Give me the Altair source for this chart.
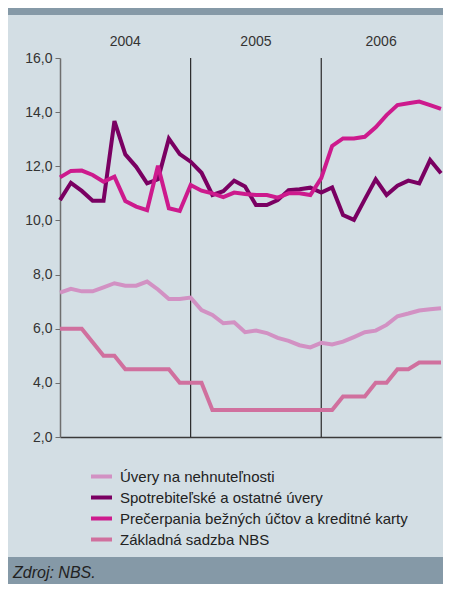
import altair as alt
import pandas as pd

# ---------------- data ----------------
years = ["2004", "2005", "2006"]
months = [f"{y}-{m:02d}" for y in years for m in range(1, 13)]

series_names = [
    "Úvery na nehnuteľnosti",
    "Spotrebiteľské a ostatné úvery",
    "Prečerpania bežných účtov a kreditné karty",
    "Základná sadzba NBS",
]
series_colors = ["#D291C3", "#7A0062", "#CD1A8D", "#D0709E"]

mortgage = [7.33, 7.47, 7.38, 7.38, 7.53, 7.68, 7.59, 7.59, 7.74, 7.45, 7.10, 7.10,
            7.15, 6.69, 6.51, 6.20, 6.24, 5.87, 5.93, 5.84, 5.66, 5.55, 5.39, 5.31,
            5.48, 5.42, 5.52, 5.69, 5.87, 5.93, 6.14, 6.46, 6.56, 6.67, 6.72, 6.76]
consumer = [10.75, 11.39, 11.09, 10.73, 10.73, 13.67, 12.44, 11.98, 11.37, 11.52, 13.02, 12.45,
            12.17, 11.76, 10.94, 11.08, 11.47, 11.25, 10.57, 10.57, 10.75, 11.12, 11.15, 11.21,
            11.03, 11.22, 10.20, 10.02, 10.78, 11.52, 10.94, 11.28, 11.47, 11.37, 12.23, 11.74]
overdraft = [11.59, 11.83, 11.84, 11.68, 11.43, 11.62, 10.72, 10.51, 10.38, 12.02, 10.45, 10.35,
             11.31, 11.10, 11.00, 10.86, 11.03, 10.98, 10.94, 10.94, 10.84, 11.00, 11.00, 10.94,
             11.56, 12.75, 13.03, 13.03, 13.09, 13.44, 13.89, 14.26, 14.33, 14.39, 14.26, 14.12]
nbs_rate = [6.0, 6.0, 6.0, 5.5, 5.0, 5.0, 4.5, 4.5, 4.5, 4.5, 4.5, 4.0,
            4.0, 4.0, 3.0, 3.0, 3.0, 3.0, 3.0, 3.0, 3.0, 3.0, 3.0, 3.0,
            3.0, 3.0, 3.5, 3.5, 3.5, 4.0, 4.0, 4.5, 4.5, 4.75, 4.75, 4.75]

y_ticks = [2, 4, 6, 8, 10, 12, 14, 16]
source_text = "Zdroj: NBS."

# ---------------- tables ----------------
rows = []
for name, vals in zip(series_names, [mortgage, consumer, overdraft, nbs_rate]):
    for i, (m, v) in enumerate(zip(months, vals)):
        rows.append({"t": i, "month": m, "series": name, "value": v})
df = pd.DataFrame(rows)

last = len(months) - 1
year_starts = [months.index(f"{y}-01") for y in years]
year_ends = year_starts[1:] + [last]
years_df = pd.DataFrame({
    "year": years,
    "mid": [(a + b) / 2 for a, b in zip(year_starts, year_ends)],
})
bounds_df = pd.DataFrame({"t": year_starts[1:]})
one = pd.DataFrame({"k": [0]})

W, H = 381, 379
PL, PT, PR, PB = 52, 50, 2, 147
FONT = "Liberation Sans"
BAND = "#8599A7"

x_scale = alt.Scale(domain=[0, last], nice=False, zero=False)

# ---------------- layers ----------------
top_band = alt.Chart(one).mark_rect(color=BAND).encode(
    x=alt.value(-PL), x2=alt.value(W + PR), y=alt.value(-PT), y2=alt.value(-PT + 7)
)
bottom_band = alt.Chart(one).mark_rect(color=BAND).encode(
    x=alt.value(-PL), x2=alt.value(W + PR), y=alt.value(H + PB - 27), y2=alt.value(H + PB)
)
source = alt.Chart(pd.DataFrame({"txt": [source_text]})).mark_text(
    font=FONT, fontSize=16, fontStyle="italic", color="#222222", align="left", baseline="alphabetic"
).encode(x=alt.value(-PL + 5), y=alt.value(H + PB - 6), text="txt:N")

lines = alt.Chart(df).mark_line(strokeWidth=4).encode(
    x=alt.X("t:Q", scale=x_scale,
            axis=alt.Axis(title=None, labels=False, ticks=False, grid=False,
                          domainColor="#3A3A3A", domainWidth=1.5)),
    y=alt.Y("value:Q", scale=alt.Scale(domain=[2, 16], nice=False, zero=False),
            axis=alt.Axis(title=None, values=y_ticks, grid=False,
                          labelExpr="replace(format(datum.value, '.1f'), '.', ',')",
                          labelFont=FONT, labelFontSize=14, labelColor="#333333",
                          labelPadding=3, tickSize=5, tickColor="#6E6E6E",
                          domainColor="#6E6E6E", domainWidth=1.5)),
    color=alt.Color("series:N",
                    scale=alt.Scale(domain=series_names, range=series_colors),
                    legend=alt.Legend(title=None, orient="none", legendX=29, legendY=406,
                                      symbolType="stroke", symbolStrokeWidth=4, symbolSize=441,
                                      labelFont=FONT, labelFontSize=15, labelColor="#222222",
                                      labelOffset=6, rowPadding=0, padding=0,
                                      labelLimit=400)),
    detail="series:N",
)

rules = alt.Chart(bounds_df).mark_rule(color="#2A2A2A", strokeWidth=1.2).encode(
    x=alt.X("t:Q", scale=x_scale)
)

year_labels = alt.Chart(years_df).mark_text(
    font=FONT, fontSize=14, color="#333333", baseline="middle"
).encode(x=alt.X("mid:Q", scale=x_scale), y=alt.value(-16), text="year:N")

chart = alt.layer(top_band, bottom_band, source, rules, year_labels, lines).properties(
    width=W, height=H,
    padding={"left": PL, "top": PT, "right": PR, "bottom": PB},
    autosize=alt.AutoSizeParams(type="none"),
    background="#D3DEE4",
).configure_view(stroke=None)

chart.save("out.html", embed_options={"renderer": "svg", "actions": False})
